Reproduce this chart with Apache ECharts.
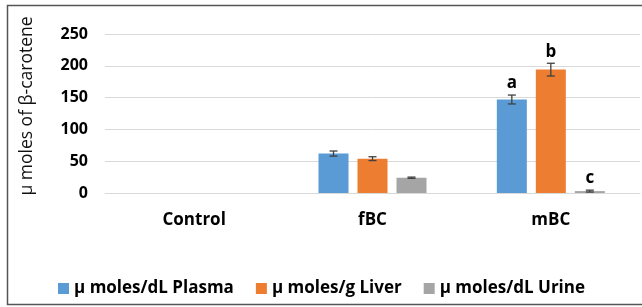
<!DOCTYPE html>
<html><head><meta charset="utf-8">
<script src="https://cdn.jsdelivr.net/npm/echarts@6/dist/echarts.min.js"></script>
<style>html,body{margin:0;padding:0;background:#fff}#c{width:642px;height:307px}</style>
</head><body><div id="c"></div>
<script>
const categories = ['Control', 'fBC', 'mBC'];
const seriesNames = ['\u00b5 moles/dL Plasma', '\u00b5 moles/g Liver', '\u00b5 moles/dL Urine'];
const plasma = [0, 62, 147];
const plasmaErr = [0, 4, 7];
const liver = [0, 54, 194];
const liverErr = [0, 3, 10];
const urine = [0, 24, 3];
const urineErr = [0, 1, 1.5];
const plasmaSig = ['', '', 'a'];
const liverSig = ['', '', 'b'];
const urineSig = ['', '', 'c'];
const yTicks = [0, 50, 100, 150, 200, 250];

const colors = ['#5B9BD5', '#ED7D31', '#A5A5A5'];
const FONT = '"Open Sans", "Noto Sans", sans-serif';
const BAR_W = 30, GAP = 9;

const values = [plasma, liver, urine];
const errs = [plasmaErr, liverErr, urineErr];
const sigs = [plasmaSig, liverSig, urineSig];

const chart = echarts.init(document.getElementById('c'), null, {renderer: 'canvas'});

const barSeries = values.map((vals, i) => ({
  name: seriesNames[i],
  type: 'bar',
  barWidth: BAR_W,
  barGap: (GAP / BAR_W * 100) + '%',
  itemStyle: {color: colors[i]},
  data: vals.map((v, j) => ({
    value: v,
    label: {
      show: !!sigs[i][j],
      position: 'top',
      distance: errs[i][j] * 0.636 + 3,
      formatter: sigs[i][j],
      fontFamily: FONT, fontWeight: 'bold', fontSize: 17, color: '#000'
    }
  }))
}));

const errSeries = values.map((vals, i) => ({
  type: 'custom',
  silent: true,
  z: 5,
  data: vals.map((v, j) => [j, v, errs[i][j]]),
  renderItem: function (params, api) {
    const j = api.value(0), v = api.value(1), e = api.value(2);
    if (!v) return null;
    const off = (i - 1) * (BAR_W + GAP);
    const top = api.coord([j, v + e]);
    const bot = api.coord([j, v - e]);
    const x = top[0] + off;
    const cap = 4;
    const st = {stroke: '#404040', lineWidth: 1.3};
    return {
      type: 'group',
      children: [
        {type: 'line', shape: {x1: x, y1: top[1], x2: x, y2: bot[1]}, style: st},
        {type: 'line', shape: {x1: x - cap, y1: top[1], x2: x + cap, y2: top[1]}, style: st},
        {type: 'line', shape: {x1: x - cap, y1: bot[1], x2: x + cap, y2: bot[1]}, style: st}
      ]
    };
  }
}));

chart.setOption({
  animation: false,
  backgroundColor: '#fff',
  grid: {left: 105, right: 2, top: 34, bottom: 114, containLabel: false},
  legend: {
    data: seriesNames,
    left: 53, top: 275,
    itemWidth: 11, itemHeight: 11, itemGap: 22,
    icon: 'rect',
    textStyle: {fontFamily: FONT, fontWeight: 'bold', fontSize: 17, color: '#000'}
  },
  xAxis: {
    type: 'category',
    data: categories,
    axisLine: {lineStyle: {color: '#d9d9d9'}},
    axisTick: {show: false},
    axisLabel: {margin: 19, fontFamily: FONT, fontWeight: 'bold', fontSize: 17, color: '#000'}
  },
  yAxis: {
    type: 'value',
    min: yTicks[0], max: yTicks[yTicks.length - 1], interval: 50,
    axisLine: {show: false},
    axisTick: {show: false},
    splitLine: {lineStyle: {color: '#d9d9d9'}},
    axisLabel: {margin: 17, fontFamily: FONT, fontWeight: 'bold', fontSize: 16, color: '#000'}
  },
  graphic: [
    {type: 'rect', shape: {x: 7.5, y: 5.5, width: 700, height: 299}, style: {fill: 'none', stroke: '#555', lineWidth: 1.5}, silent: true},
    {type: 'text', x: 27, y: 106, rotation: Math.PI / 2,
     style: {text: '\u00b5 moles of \u03b2-carotene', fontFamily: FONT, fontSize: 17.5, fill: '#111', textAlign: 'center', textVerticalAlign: 'middle'}}
  ],
  series: barSeries.concat(errSeries)
});
</script></body></html>
